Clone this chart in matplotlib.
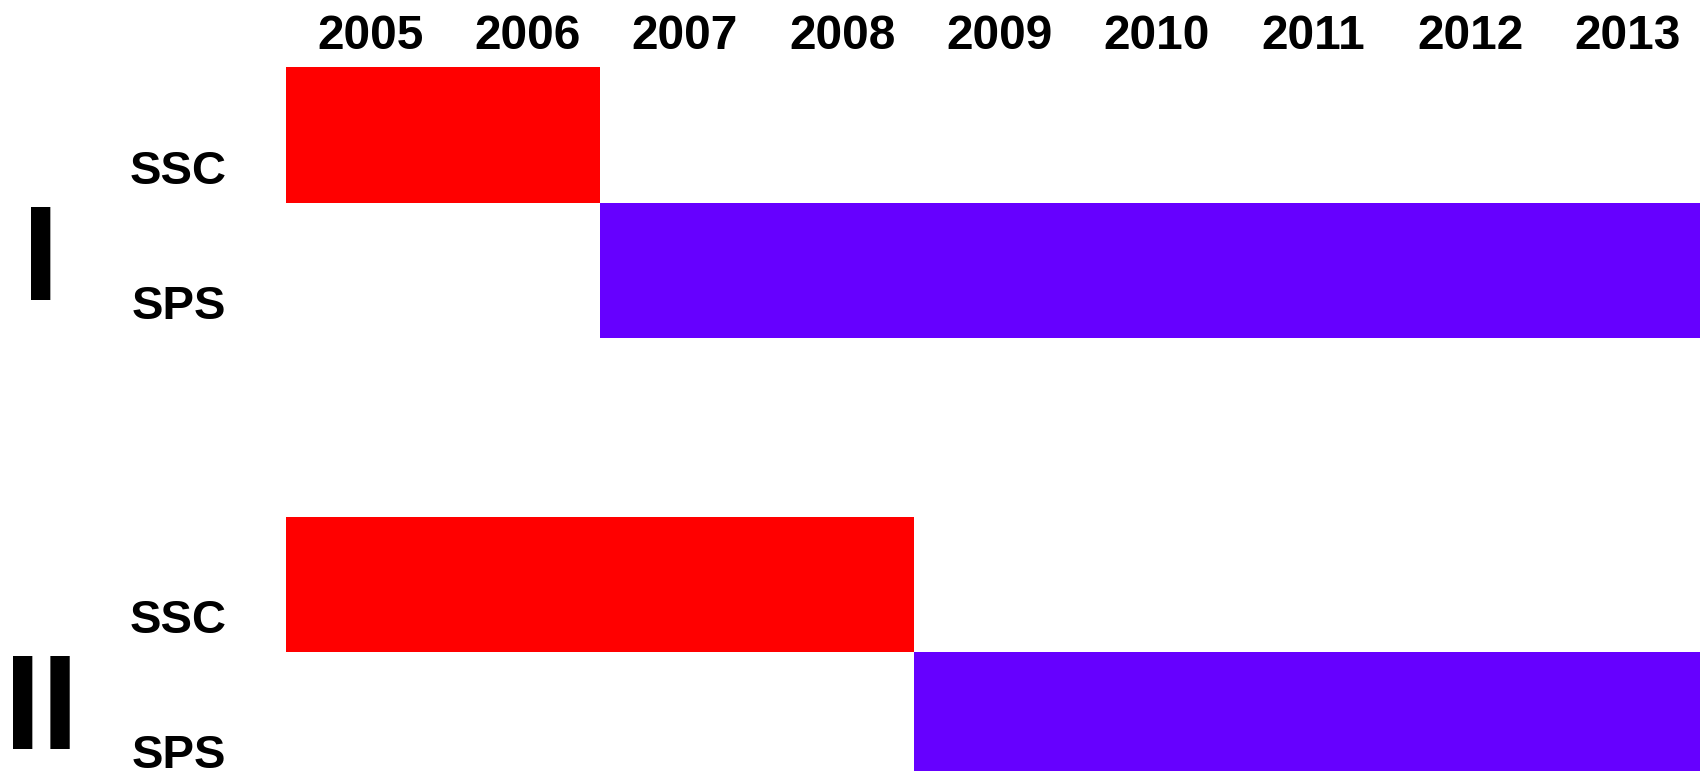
import matplotlib
matplotlib.use('Agg')
import matplotlib.pyplot as plt
from matplotlib.transforms import blended_transform_factory

# data
years = [2005, 2006, 2007, 2008, 2009, 2010, 2011, 2012, 2013]
groups = ['I', 'II']
series = ['SSC', 'SPS']
ssc_start = [2005, 2005]
switch_year = [2007, 2009]   # year the SPS bar takes over
sps_end = [2014, 2014]       # bars run to the end of 2013
colors = {'SSC': '#ff0000', 'SPS': '#6600ff'}

plt.rcParams['font.family'] = ['Liberation Sans', 'DejaVu Sans']
plt.rcParams['font.weight'] = 'bold'

W, H = 1704, 771
fig = plt.figure(figsize=(W / 100, H / 100), dpi=100)

row_px = 135.3
top_px = 67.4
ax = fig.add_axes([286 / W, 0, (1700 - 286) / W, 1 - top_px / H])
n_rows = (H - top_px) / row_px
group_gap = 1.32  # rows of empty space between the groups

label_y, label_txt = [], []
for i, g in enumerate(groups):
    g_top = i * (2 + group_gap)
    ssc_y = g_top + 0.5
    sps_y = g_top + 1.5
    ax.barh(ssc_y, switch_year[i] - ssc_start[i], left=ssc_start[i],
            height=1.0, color=colors['SSC'])
    ax.barh(sps_y, sps_end[i] - switch_year[i], left=switch_year[i],
            height=1.0, color=colors['SPS'])
    label_y += [ssc_y + 0.36, sps_y + 0.36]
    label_txt += series
    # roman numeral for the group, at the far left
    tr = blended_transform_factory(fig.transFigure, ax.transData)
    ax.text(41 / W, g_top + 1.72, g, transform=tr, ha='center', va='baseline',
            fontsize=97, fontweight='bold', clip_on=False)

ax.set_xlim(years[0], years[-1] + 1)
ax.set_ylim(n_rows, 0)

ax.xaxis.tick_top()
ax.set_xticks([y + 0.54 for y in years])
ax.set_xticklabels([str(y) for y in years], fontsize=34.5, fontweight='bold')
ax.set_yticks(label_y)
ax.set_yticklabels(label_txt, fontsize=34, fontweight='bold')
ax.tick_params(axis='x', length=0, pad=13.3)
ax.tick_params(axis='y', length=0, pad=43)
for t in ax.get_xticklabels() + ax.get_yticklabels():
    t.set_va('baseline')

for s in ax.spines.values():
    s.set_visible(False)

fig.savefig('out.png', dpi=100, facecolor='white')
